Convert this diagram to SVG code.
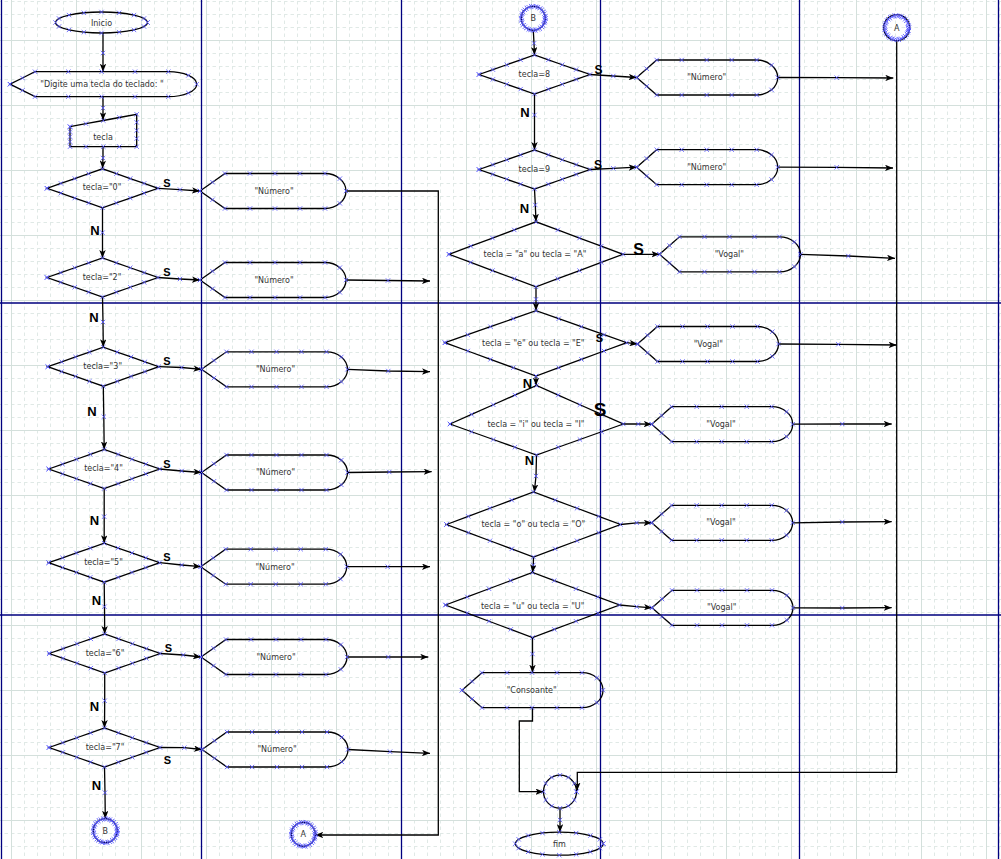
<svg xmlns="http://www.w3.org/2000/svg" xmlns:xlink="http://www.w3.org/1999/xlink" width="1001" height="859" viewBox="0 0 1001 859">
<style>
.shp{fill:none;stroke:#000;stroke-width:1.3;marker-start:url(#xm);marker-mid:url(#xm);marker-end:url(#xm)}
.mk{fill:none;stroke:none;marker-start:url(#xm);marker-mid:url(#xm);marker-end:url(#xm)}
.cn{fill:none;stroke:#000;stroke-width:1.3;marker-mid:url(#xm);marker-end:url(#ah)}
.cn2{fill:none;stroke:#000;stroke-width:1.3;marker-end:url(#ah)}
.t{font-family:"DejaVu Sans",Verdana,sans-serif;font-size:8px;fill:#333;text-anchor:middle}
.lb{font-family:"Liberation Sans",Arial,sans-serif;font-weight:bold;fill:#000;text-anchor:middle}
</style>
<defs>
<pattern id="gmin" x="11" y="1" width="13" height="13" patternUnits="userSpaceOnUse"><path d="M0.5,0 V13 M0,0.5 H13" stroke="#e0e9e6" stroke-width="1" stroke-dasharray="3.5 3" fill="none"/></pattern>
<pattern id="gmaj" x="11" y="40" width="65" height="65" patternUnits="userSpaceOnUse"><path d="M0.5,0 V65 M0,0.5 H65" stroke="#d4e0dc" stroke-width="1" fill="none"/></pattern>
<marker id="ah" viewBox="0 0 10 8" refX="10" refY="4" markerWidth="8" markerHeight="6.4" markerUnits="userSpaceOnUse" orient="auto"><path d="M0,0 L10,4 L0,8 L2.5,4 Z" fill="#000"/></marker>
<marker id="xm" viewBox="-3 -3 6 6" refX="0" refY="0" markerWidth="6" markerHeight="6" markerUnits="userSpaceOnUse" overflow="visible"><path d="M-2.2,-2.2 L2.2,2.2 M-2.2,2.2 L2.2,-2.2" stroke="#5555ff" stroke-width="0.8" fill="none"/></marker>
<path id="dS" class="shp" d="M-55.5,0 L-41.625,-4.875 L-27.75,-9.75 L-13.875,-14.625 L0,-19.5 L13.875,-14.625 L27.75,-9.75 L41.625,-4.875 L55.5,0 L41.625,4.875 L27.75,9.75 L13.875,14.625 L0,19.5 L-13.875,14.625 L-27.75,9.75 L-41.625,4.875 Z"/>
<path id="dL" class="shp" d="M-87,0 L-65.25,-8.125 L-43.5,-16.25 L-21.75,-24.375 L0,-32.5 L21.75,-24.375 L43.5,-16.25 L65.25,-8.125 L87,0 L65.25,8.125 L43.5,16.25 L21.75,24.375 L0,32.5 L-21.75,24.375 L-43.5,16.25 L-65.25,8.125 Z"/>
<path id="dispL" class="shp" d="M0,0 L12.5,-8.75 L25,-17.5 L50,-17.5 L75,-17.5 L100,-17.5 L125,-17.5 A21,17.5 0 0 1 139.85,-12.37 A21,17.5 0 0 1 146,0 A21,17.5 0 0 1 139.85,12.37 A21,17.5 0 0 1 125,17.5 L100,17.5 L75,17.5 L50,17.5 L25,17.5 L12.5,8.75 Z"/>
<path id="dispR" class="shp" d="M0,0 L10,-8.75 L20,-17.5 L45,-17.5 L70,-17.5 L95,-17.5 L120,-17.5 A21,17.5 0 0 1 134.85,-12.37 A21,17.5 0 0 1 141,0 A21,17.5 0 0 1 134.85,12.37 A21,17.5 0 0 1 120,17.5 L95,17.5 L70,17.5 L45,17.5 L20,17.5 L10,8.75 Z"/>
<path id="ring12" class="mk" d="M12,0 L11.09,4.59 L8.49,8.49 L4.59,11.09 L0,12 L-4.59,11.09 L-8.49,8.49 L-11.09,4.59 L-12,0 L-11.09,-4.59 L-8.49,-8.49 L-4.59,-11.09 L0,-12 L4.59,-11.09 L8.49,-8.49 L11.09,-4.59 Z"/>
<path id="ring16" class="mk" d="M16.5,0 L14.29,8.25 L8.25,14.29 L0,16.5 L-8.25,14.29 L-14.29,8.25 L-16.5,0 L-14.29,-8.25 L-8.25,-14.29 L0,-16.5 L8.25,-14.29 L14.29,-8.25 Z"/>
</defs>

<g id="background">
<rect width="1001" height="859" fill="#fff"/>
<rect width="1001" height="859" fill="url(#gmin)"/>
<rect width="1001" height="859" fill="url(#gmaj)"/>
<path d="M1.5,0 V859 M201.5,0 V859 M401.5,0 V859 M600.5,0 V859 M799.5,0 V859 M998.5,0 V859 M0,303 H1001 M0,615 H1001" stroke="#00007f" stroke-width="1.3" fill="none"/>
</g>

<g id="connectors">
<path class="cn" d="M103,33 L103,53 L103,71.7"/>
<path class="cn" d="M103,96.7 L103,108 L103,120.3"/>
<path class="cn" d="M103,146.7 L103,158 L102.5,168.5"/>
<path class="cn" d="M158,188.3 L180,189.6 L200,191"/>
<path class="cn" d="M102.5,207.8 L102.5,232.7 L102.5,258"/>
<path class="cn" d="M158,277.5 L180,279 L200,280"/>
<path class="cn2" d="M346,191 L438.3,191 L438.3,835 L315.3,835"/>
<path class="cn" d="M346,280 L388,280.5 L430,281"/>
<path class="cn" d="M102.5,297 L103,322 L103.3,347.2"/>
<path class="cn" d="M158.8,366.7 L181.7,367.5 L201.5,369.3"/>
<path class="cn" d="M347.5,369.3 L388.3,371 L430,371.7"/>
<path class="cn" d="M103.3,386.2 L103.8,416.7 L104.2,449.5"/>
<path class="cn" d="M159.7,469 L181.7,471 L201.5,472.5"/>
<path class="cn" d="M347.5,472.5 L389.3,472 L431.7,471.7"/>
<path class="cn" d="M104.2,488.5 L104.2,516.7 L104.2,543.2"/>
<path class="cn" d="M159.7,562.7 L181.7,565 L200.7,566.7"/>
<path class="cn" d="M346.7,566.7 L387.7,566.7 L430,566.7"/>
<path class="cn" d="M104.2,582.2 L104.5,606.7 L104.7,634"/>
<path class="cn" d="M160.2,653.5 L183.3,655 L201,657"/>
<path class="cn" d="M347,657 L388.3,657 L428.3,657"/>
<path class="cn" d="M104.7,673 L104.7,700.7 L104.5,728"/>
<path class="cn" d="M160,747.5 L184.3,747.7 L202,749.5"/>
<path class="cn" d="M348,749.5 L390,751.7 L430,753.3"/>
<path class="cn" d="M104.5,767 L105,792.7 L105.3,818.7"/>
<path class="cn" d="M533.3,30.3 L534,43.3 L534.5,55"/>
<path class="cn" d="M590,74.5 L613.3,76 L636.7,77.5"/>
<path class="cn" d="M777.7,77.5 L836.7,77.7 L893.3,78"/>
<path class="cn" d="M534.5,94 L534.5,115 L534.5,150"/>
<path class="cn" d="M590,169.5 L613.3,168.3 L636.7,167.2"/>
<path class="cn" d="M777.7,167.2 L836.7,167.3 L893,168"/>
<path class="cn" d="M534.5,189 L535.3,205 L536,221.8"/>
<path class="cn2" d="M623,254.3 L659.5,254.3"/>
<path class="cn" d="M800.5,254.3 L848.3,256 L895,258.3"/>
<path class="cn" d="M536,286.8 L536,299.3 L536,310.7"/>
<path class="cn2" d="M626.7,342.7 L637.5,344"/>
<path class="cn" d="M778.5,344 L838.3,344.3 L896.7,345"/>
<path class="cn2" d="M536,376 L536,385.5"/>
<path class="cn" d="M623.3,424 L638.3,424 L651.7,424.2"/>
<path class="cn" d="M792.7,424.2 L842.3,424 L891.7,424"/>
<path class="cn" d="M536.5,455 L536,476 L534.3,492.3"/>
<path class="cn" d="M620.5,524.5 L636.7,522.8 L651.7,522.8"/>
<path class="cn" d="M792.7,522.8 L842.3,522 L891.7,521.7"/>
<path class="cn" d="M533.5,557 L533.3,565 L532.5,572.5"/>
<path class="cn" d="M619.5,605 L636.7,606.7 L652,607.8"/>
<path class="cn" d="M793,607.8 L842.3,608 L891.7,607.7"/>
<path class="cn" d="M532.5,637.5 L532.5,654 L532.5,672.7"/>
<path class="cn2" d="M532.5,707.7 L532.5,721 L519.3,721 L519.3,791.7 L543.5,791.7"/>
<path class="cn2" d="M896.7,40.7 L896.7,772.3 L577.3,772.3 L577.3,790.5"/>
<path class="cn" d="M560,808.2 L560,820 L560,832.2"/>
</g>

<g id="inicio">
<ellipse cx="101.5" cy="22.5" rx="46" ry="10.5" fill="none" stroke="#000" stroke-width="1.3"/>
<path class="mk" transform="translate(101.5,22.5)" d="M46,0 L42.5,4.02 L32.5,7.42 L17.6,9.7 L0,10.5 L-17.6,9.7 L-32.5,7.42 L-42.5,4.02 L-46,0 L-42.5,-4.02 L-32.5,-7.42 L-17.6,-9.7 L0,-10.5 L17.6,-9.7 L32.5,-7.42 L42.5,-4.02 Z"/>
<text class="t" x="101.5" y="25.5">Inicio</text>
</g>

<g id="msg">
<path class="shp" d="M10,84.2 L22.5,78 L35,71.7 L68.3,71.7 L101.7,71.7 L135,71.7 L168.3,71.7 A28.4,12.5 0 0 1 188.4,75.4 A28.4,12.5 0 0 1 196.7,84.2 A28.4,12.5 0 0 1 188.4,93 A28.4,12.5 0 0 1 168.3,96.7 L135,96.7 L101.7,96.7 L68.3,96.7 L35,96.7 L22.5,90.4 Z"/>
<text class="t" x="102" y="87">"Digite uma tecla do teclado: "</text>
</g>

<g id="input">
<path class="shp" d="M70,126.7 L86,123.7 L103.3,120.5 L119.3,117.5 L136.7,114.3 L136.7,122.4 L136.7,130.5 L136.7,138.6 L136.7,146.7 L119.3,146.7 L103.3,146.7 L86,146.7 L70,146.7 L70,141.7 L70,136.7 L70,131.7 Z"/>
<text class="t" x="103" y="139.5">tecla</text>
</g>

<g id="dec0"><use xlink:href="#dS" x="102.5" y="188.3"/><text class="t" x="102" y="190">tecla="0"</text></g>
<g id="dec2"><use xlink:href="#dS" x="102.5" y="277.5"/><text class="t" x="102" y="279.5">tecla="2"</text></g>
<g id="dec3"><use xlink:href="#dS" x="103.3" y="366.7"/><text class="t" x="102.7" y="368.5">tecla="3"</text></g>
<g id="dec4"><use xlink:href="#dS" x="104.2" y="469"/><text class="t" x="103.5" y="471">tecla="4"</text></g>
<g id="dec5"><use xlink:href="#dS" x="104.2" y="562.7"/><text class="t" x="103.5" y="565">tecla="5"</text></g>
<g id="dec6"><use xlink:href="#dS" x="104.7" y="653.5"/><text class="t" x="105" y="655.5">tecla="6"</text></g>
<g id="dec7"><use xlink:href="#dS" x="104.5" y="747.5"/><text class="t" x="105" y="749.5">tecla="7"</text></g>

<g id="out0"><use xlink:href="#dispL" x="200" y="191"/><text class="t" x="274" y="194">"Número"</text></g>
<g id="out2"><use xlink:href="#dispL" x="200" y="280"/><text class="t" x="274" y="283">"Número"</text></g>
<g id="out3"><use xlink:href="#dispL" x="201.5" y="369.3"/><text class="t" x="275.5" y="372">"Número"</text></g>
<g id="out4"><use xlink:href="#dispL" x="201.5" y="472.5"/><text class="t" x="275.5" y="475.3">"Número"</text></g>
<g id="out5"><use xlink:href="#dispL" x="200.7" y="566.7"/><text class="t" x="275" y="569.5">"Número"</text></g>
<g id="out6"><use xlink:href="#dispL" x="201" y="657"/><text class="t" x="276" y="660">"Número"</text></g>
<g id="out7"><use xlink:href="#dispL" x="202" y="749.5"/><text class="t" x="277" y="752.3">"Número"</text></g>

<g id="connB1"><circle cx="105.3" cy="830.7" r="12" fill="none" stroke="#000" stroke-width="1.3"/><use xlink:href="#ring12" x="105.3" y="830.7"/><use xlink:href="#ring12" transform="translate(105.3,830.7) rotate(11.25)"/><text class="t" x="105.3" y="833.5">B</text></g>
<g id="connA1"><circle cx="303.3" cy="834.3" r="12" fill="none" stroke="#000" stroke-width="1.3"/><use xlink:href="#ring12" x="303.3" y="834.3"/><use xlink:href="#ring12" transform="translate(303.3,834.3) rotate(11.25)"/><text class="t" x="303.3" y="837">A</text></g>
<g id="connB2"><circle cx="533.3" cy="18.3" r="12" fill="none" stroke="#000" stroke-width="1.3"/><use xlink:href="#ring12" x="533.3" y="18.3"/><use xlink:href="#ring12" transform="translate(533.3,18.3) rotate(11.25)"/><text class="t" x="533.3" y="21.2">B</text></g>
<g id="connA2"><circle cx="896.7" cy="27.7" r="13" fill="none" stroke="#000" stroke-width="1.3"/><use xlink:href="#ring12" x="896.7" y="27.7"/><use xlink:href="#ring12" transform="translate(896.7,27.7) rotate(11.25)"/><text class="t" x="896.7" y="30.5">A</text></g>

<g id="dec8"><use xlink:href="#dS" x="534.5" y="74.5"/><text class="t" x="534.3" y="76.5">tecla=8</text></g>
<g id="dec9"><use xlink:href="#dS" x="534.5" y="169.5"/><text class="t" x="534.3" y="171.5">tecla=9</text></g>
<g id="out8"><use xlink:href="#dispR" x="636.7" y="77.5"/><text class="t" x="706.7" y="79.5">"Número"</text></g>
<g id="out9"><use xlink:href="#dispR" x="636.7" y="167.2"/><text class="t" x="706.7" y="170">"Número"</text></g>

<g id="decA"><use xlink:href="#dL" x="536" y="254.3"/><text class="t" x="535" y="257">tecla = "a" ou tecla = "A"</text></g>
<g id="decE">
<path class="shp" d="M445,342.7 L467.75,334.7 L490.5,326.7 L513.25,318.7 L536,310.7 L558.7,318.7 L581.35,326.7 L604,334.7 L626.7,342.7 L604,351 L581.35,359.35 L558.7,367.7 L536,376 L513.25,367.7 L490.5,359.35 L467.75,351 Z"/>
<text class="t" x="533.3" y="345.5">tecla = "e" ou tecla = "E"</text></g>
<g id="decI">
<path class="shp" d="M450,424 L471.6,414.4 L493.25,404.75 L514.9,395.1 L536.5,385.5 L558.2,395.1 L579.9,404.75 L601.6,414.4 L623.3,424 L601.6,431.75 L579.9,439.5 L558.2,447.25 L536.5,455 L514.9,447.25 L493.25,439.5 L471.6,431.75 Z"/>
<text class="t" x="536" y="427">tecla = "i" ou tecla = "I"</text></g>
<g id="decO"><use xlink:href="#dL" x="533.5" y="524.5"/><text class="t" x="533.3" y="527">tecla = "o" ou tecla = "O"</text></g>
<g id="decU"><use xlink:href="#dL" x="532.5" y="605"/><text class="t" x="532.7" y="608.5">tecla = "u" ou tecla = "U"</text></g>

<g id="vogA"><use xlink:href="#dispR" x="659.5" y="254.3"/><text class="t" x="729.3" y="256.8">"Vogal"</text></g>
<g id="vogE"><use xlink:href="#dispR" x="637.5" y="344"/><text class="t" x="708.3" y="346.5">"Vogal"</text></g>
<g id="vogI"><use xlink:href="#dispR" x="651.7" y="424.2"/><text class="t" x="721" y="426.5">"Vogal"</text></g>
<g id="vogO"><use xlink:href="#dispR" x="651.7" y="522.8"/><text class="t" x="721" y="524.5">"Vogal"</text></g>
<g id="vogU"><use xlink:href="#dispR" x="652" y="607.8"/><text class="t" x="721.7" y="609.5">"Vogal"</text></g>
<g id="consoante"><use xlink:href="#dispR" x="462" y="690.2"/><text class="t" x="531.7" y="693">"Consoante"</text></g>

<g id="merge"><circle cx="560" cy="791.7" r="16.5" fill="none" stroke="#000" stroke-width="1.3"/><use xlink:href="#ring16" x="560" y="791.7"/></g>
<g id="fim">
<ellipse cx="559.3" cy="843.7" rx="44" ry="11.5" fill="none" stroke="#000" stroke-width="1.3"/>
<path class="mk" transform="translate(559.3,843.7)" d="M44,0 L40.65,4.4 L31.1,8.13 L16.85,10.63 L0,11.5 L-16.85,10.63 L-31.1,8.13 L-40.65,4.4 L-44,0 L-40.65,-4.4 L-31.1,-8.13 L-16.85,-10.63 L0,-11.5 L16.85,-10.63 L31.1,-8.13 L40.65,-4.4 Z"/>
<text class="t" x="559.3" y="846.5">fim</text>
</g>

<g id="labels">
<text class="lb" x="167" y="186.5" font-size="11">S</text>
<text class="lb" x="167" y="275.5" font-size="11">S</text>
<text class="lb" x="167" y="364.5" font-size="11">S</text>
<text class="lb" x="167" y="468" font-size="11">S</text>
<text class="lb" x="167" y="561" font-size="11">S</text>
<text class="lb" x="168.5" y="652" font-size="11">S</text>
<text class="lb" x="167.5" y="763.5" font-size="11">S</text>
<text class="lb" x="598.5" y="73.5" font-size="12">S</text>
<text class="lb" x="598" y="168.5" font-size="12">S</text>
<text class="lb" x="638.5" y="255" font-size="16">S</text>
<text class="lb" x="599.5" y="341.5" font-size="11">S</text>
<text class="lb" x="600" y="415.5" font-size="19">S</text>
<text class="lb" x="95" y="234.5" font-size="13">N</text>
<text class="lb" x="94" y="321.5" font-size="13">N</text>
<text class="lb" x="92" y="416" font-size="13">N</text>
<text class="lb" x="94.5" y="525" font-size="13">N</text>
<text class="lb" x="96.5" y="604.5" font-size="13">N</text>
<text class="lb" x="94.5" y="710.5" font-size="13">N</text>
<text class="lb" x="96.5" y="789.5" font-size="13">N</text>
<text class="lb" x="525" y="116.5" font-size="13">N</text>
<text class="lb" x="524.5" y="213" font-size="13">N</text>
<text class="lb" x="527.5" y="388" font-size="13">N</text>
<text class="lb" x="529.5" y="465" font-size="13">N</text>
</g>
</svg>
